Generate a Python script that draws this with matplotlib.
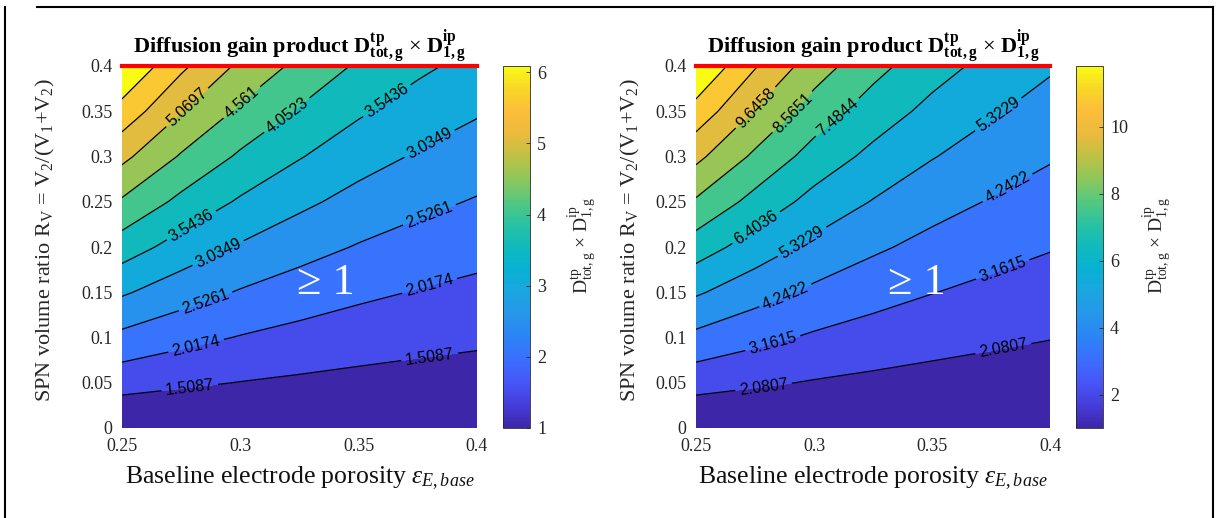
import matplotlib.pyplot as plt
from matplotlib.colors import LinearSegmentedColormap, Normalize
from matplotlib.cm import ScalarMappable
from matplotlib.lines import Line2D

plt.rcParams['font.family'] = ['Liberation Serif', 'DejaVu Serif']
plt.rcParams['mathtext.fontset'] = 'custom'
plt.rcParams['mathtext.rm'] = 'Liberation Serif'
plt.rcParams['mathtext.it'] = 'Liberation Serif:italic'
plt.rcParams['mathtext.bf'] = 'Liberation Serif:bold'

# grid
eps_base = [0.25, 0.275, 0.30, 0.325, 0.35, 0.375, 0.40]
r_v = [0, 0.05, 0.10, 0.15, 0.20, 0.25, 0.30, 0.35, 0.40]

# rows follow r_v, columns follow eps_base
gain_left = [
    [1.000, 1.000, 1.000, 1.000, 1.000, 1.000, 1.000],
    [1.699, 1.585, 1.496, 1.429, 1.373, 1.331, 1.298],
    [2.399, 2.170, 1.992, 1.858, 1.746, 1.661, 1.595],
    [3.098, 2.755, 2.488, 2.287, 2.119, 1.992, 1.893],
    [3.798, 3.340, 2.984, 2.715, 2.492, 2.323, 2.190],
    [4.497, 3.925, 3.480, 3.144, 2.865, 2.653, 2.488],
    [5.197, 4.510, 3.976, 3.573, 3.237, 2.984, 2.786],
    [5.896, 5.095, 4.472, 4.002, 3.610, 3.315, 3.083],
    [6.596, 5.680, 4.968, 4.431, 3.983, 3.645, 3.381],
]
gain_right = [
    [1.000, 1.000, 1.000, 1.000, 1.000, 1.000, 1.000],
    [2.486, 2.227, 2.011, 1.854, 1.730, 1.635, 1.557],
    [3.972, 3.453, 3.021, 2.708, 2.459, 2.269, 2.113],
    [5.458, 4.680, 4.032, 3.562, 3.189, 2.904, 2.670],
    [6.944, 5.906, 5.042, 4.416, 3.918, 3.538, 3.226],
    [8.430, 7.133, 6.053, 5.270, 4.648, 4.173, 3.783],
    [9.916, 8.359, 7.063, 6.124, 5.377, 4.807, 4.339],
    [11.402, 9.586, 8.074, 6.978, 6.107, 5.442, 4.896],
    [12.888, 10.812, 9.084, 7.832, 6.836, 6.076, 5.452],
]

levels_left = [1.5087, 2.0174, 2.5261, 3.0349, 3.5436, 4.0523, 4.561, 5.0697, 5.5784, 6.0871]
levels_right = [2.0807, 3.1615, 4.2422, 5.3229, 6.4036, 7.4844, 8.5651, 9.6458, 10.7265, 11.8072]

cbar_ticks_left = [1, 2, 3, 4, 5, 6]
cbar_ticks_right = [2, 4, 6, 8, 10]
x_ticks = [0.25, 0.3, 0.35, 0.4]
y_ticks = [0, 0.05, 0.1, 0.15, 0.2, 0.25, 0.3, 0.35, 0.4]

# where the inline contour labels sit
label_pos_left = [(0.2787, 0.351), (0.2999, 0.362), (0.3196, 0.346), (0.3618, 0.362),
                  (0.2787, 0.2265), (0.2914, 0.189), (0.2858, 0.136), (0.2816, 0.088),
                  (0.2787, 0.042), (0.380, 0.314), (0.380, 0.235), (0.380, 0.157),
                  (0.380, 0.078)]
label_pos_right = [(0.2757, 0.353), (0.2913, 0.348), (0.3110, 0.340), (0.2757, 0.2206),
                   (0.2954, 0.204), (0.2884, 0.143), (0.2828, 0.0917), (0.2786, 0.0457),
                   (0.380, 0.339), (0.384, 0.256), (0.3806, 0.171), (0.3806, 0.0825)]

parula_pts = [
    (0.2422, 0.1504, 0.6603), (0.2727, 0.2394, 0.8589), (0.2770, 0.3370, 0.9700),
    (0.2320, 0.4330, 0.9970), (0.1700, 0.5180, 0.9650), (0.1500, 0.5900, 0.9200),
    (0.1000, 0.6500, 0.8800), (0.0300, 0.6950, 0.8300), (0.0600, 0.7300, 0.7400),
    (0.1600, 0.7600, 0.6400), (0.3300, 0.7850, 0.5000), (0.5500, 0.7800, 0.3600),
    (0.7400, 0.7600, 0.2700), (0.9200, 0.7300, 0.2400), (0.9900, 0.7400, 0.2300),
    (0.9700, 0.8400, 0.1500), (0.9769, 0.9839, 0.0805),
]
parula = LinearSegmentedColormap.from_list('parula', parula_pts)

W, H = 1221, 518
fig = plt.figure(figsize=(W / 100, H / 100), dpi=100)


def box(x0, y0, x1, y1):
    return [x0 / W, 1 - y1 / H, (x1 - x0) / W, (y1 - y0) / H]


title = (r'Diffusion gain product $\mathbf{D^{tp}_{tot,g}}$ $\times$ '
         r'$\mathbf{D^{ip}_{1,g}}$')
ylab = r'SPN volume ratio $\mathrm{R_V}$ = $\mathrm{V_2/(V_1{+}V_2)}$'
xlab = r'Baseline electrode porosity $\varepsilon_{E,base}$'
cblab = r'$\mathrm{D^{tp}_{tot,g}}$ $\times$ $\mathrm{D^{ip}_{1,g}}$'

panels = [
    (gain_left, levels_left, cbar_ticks_left, label_pos_left, 7.0, 0.336,
     (122, 66, 477, 428), (503, 66, 530, 428), 45, 583),
    (gain_right, levels_right, cbar_ticks_right, label_pos_right, 13.5, 0.3436,
     (696, 66, 1050, 428), (1076, 66, 1103, 428), 630, 1158),
]

for z, lv, cticks, lpos, ztop, gex, abox, cbox, ylx, cblx in panels:
    ax = fig.add_axes(box(*abox))
    cax = fig.add_axes(box(*cbox))
    fill_lv = [1.0] + lv + [ztop]
    norm = Normalize(1.0, lv[-1])
    cols = [parula(norm(v)) for v in fill_lv[:-1]]
    ax.contourf(eps_base, r_v, z, levels=fill_lv, colors=cols)
    cs = ax.contour(eps_base, r_v, z, levels=lv, colors='k', linewidths=0.9)
    with plt.rc_context({'font.family': ['Liberation Sans', 'DejaVu Sans']}):
        ax.clabel(cs, fmt=lambda v: f'{v:.4f}'.rstrip('0'), manual=lpos,
                  inline=True, inline_spacing=4, fontsize=11.5)
    ax.axhline(0.4, color='red', lw=3, clip_on=False, zorder=5)
    ax.text(gex, 0.16, '\u2265 1', color='white', fontsize=32,
            ha='center', va='center')
    ax.set_xlim(0.25, 0.4)
    ax.set_ylim(0, 0.4)
    ax.set_xticks(x_ticks)
    ax.set_xticklabels(['0.25', '0.3', '0.35', '0.4'])
    ax.set_yticks(y_ticks)
    ax.set_yticklabels(['0', '0.05', '0.1', '0.15', '0.2', '0.25', '0.3', '0.35', '0.4'])
    ax.tick_params(length=0, labelsize=13, colors='#262626', pad=7)
    for s in ax.spines.values():
        s.set_visible(False)
    ax.set_title(title, fontsize=16, fontweight='bold', pad=5)

    cb = fig.colorbar(ScalarMappable(norm=norm, cmap=parula), cax=cax)
    cb.set_ticks(cticks)
    cb.ax.tick_params(direction='in', length=3, width=0.6, labelsize=13,
                      colors='#262626', pad=5)
    cb.outline.set_linewidth(0.6)
    cb.outline.set_edgecolor('#262626')

    fig.text(ylx / W, 1 - 240 / H, ylab, rotation=90, ha='center', va='center',
             fontsize=16, color='#262626')
    fig.text(cblx / W, 1 - 245 / H, cblab, rotation=90, ha='center', va='center',
             fontsize=14, color='#262626')
    fig.text((abox[0] + abox[2]) / 2 / W, 1 - 478 / H, xlab, ha='center',
             va='center', fontsize=18.5, color='#111111')

# frame around the whole picture
fig.add_artist(Line2D([5 / W, 5 / W], [0, 1 - 7 / H], color='k', lw=1.5))
fig.add_artist(Line2D([37 / W, 1213 / W], [1 - 7 / H, 1 - 7 / H], color='k', lw=1.5))
fig.add_artist(Line2D([1213 / W, 1213 / W], [0, 1 - 7 / H], color='k', lw=1.5))

fig.savefig('out.png', dpi=100)
